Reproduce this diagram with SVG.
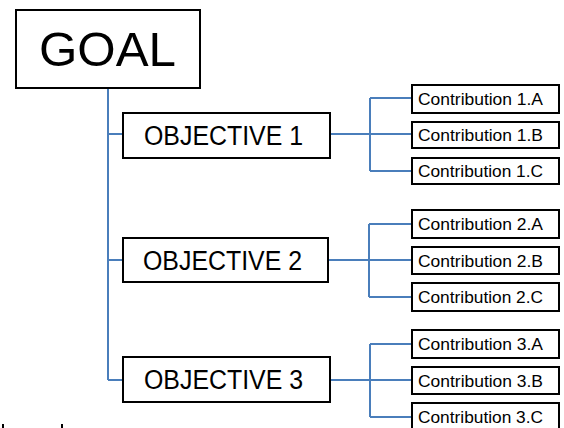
<svg xmlns="http://www.w3.org/2000/svg" width="564" height="428" viewBox="0 0 564 428">
<style>
.box{fill:#fff;stroke:#000;stroke-width:2}
.ln{fill:none;stroke:#4a7ebb;stroke-width:2}
.goal{font-family:"Liberation Sans",Arial,sans-serif;font-size:48px;fill:#000}
.obj{font-family:"Liberation Sans",Arial,sans-serif;font-size:27px;fill:#000}
.con{font-family:"Liberation Sans",Arial,sans-serif;font-size:16px;fill:#000}
</style>
<rect width="564" height="428" fill="#fff"/>
<g id="connectors">
<path class="ln" d="M108,89V380M108,134H122M108,260H122M108,380H122"/>
<path class="ln" d="M331,134H370M370,98V171M370,98H411M370,134H411M370,171H411"/>
<path class="ln" d="M329,260H369M369,224V297M369,224H411M369,260H411M369,297H411"/>
<path class="ln" d="M331,380H370M370,344V417M370,344H411M370,380H411M370,417H411"/>
</g>
<g id="goal"><rect class="box" x="16" y="10" width="184" height="78"/><text class="goal" x="39" y="66" textLength="137" lengthAdjust="spacingAndGlyphs">GOAL</text></g>
<g id="obj1"><rect class="box" x="123" y="113" width="207" height="45"/><text class="obj" x="144" y="145" textLength="159" lengthAdjust="spacingAndGlyphs">OBJECTIVE 1</text></g>
<g id="obj2"><rect class="box" x="123" y="238" width="205" height="44"/><text class="obj" x="143" y="270" textLength="159" lengthAdjust="spacingAndGlyphs">OBJECTIVE 2</text></g>
<g id="obj3"><rect class="box" x="123" y="357" width="207" height="45"/><text class="obj" x="144" y="389" textLength="159" lengthAdjust="spacingAndGlyphs">OBJECTIVE 3</text></g>
<g id="c1a"><rect class="box" x="412" y="85" width="147" height="28"/><text class="con" x="418" y="105" textLength="125" lengthAdjust="spacingAndGlyphs">Contribution 1.A</text></g>
<g id="c1b"><rect class="box" x="412" y="122" width="147" height="26"/><text class="con" x="418" y="141" textLength="125" lengthAdjust="spacingAndGlyphs">Contribution 1.B</text></g>
<g id="c1c"><rect class="box" x="412" y="158" width="147" height="26"/><text class="con" x="418" y="177" textLength="125" lengthAdjust="spacingAndGlyphs">Contribution 1.C</text></g>
<g id="c2a"><rect class="box" x="412" y="210" width="147" height="28"/><text class="con" x="418" y="230" textLength="125" lengthAdjust="spacingAndGlyphs">Contribution 2.A</text></g>
<g id="c2b"><rect class="box" x="412" y="247" width="147" height="27"/><text class="con" x="418" y="267" textLength="125" lengthAdjust="spacingAndGlyphs">Contribution 2.B</text></g>
<g id="c2c"><rect class="box" x="412" y="283" width="147" height="28"/><text class="con" x="418" y="303" textLength="125" lengthAdjust="spacingAndGlyphs">Contribution 2.C</text></g>
<g id="c3a"><rect class="box" x="412" y="330" width="147" height="28"/><text class="con" x="418" y="350" textLength="125" lengthAdjust="spacingAndGlyphs">Contribution 3.A</text></g>
<g id="c3b"><rect class="box" x="412" y="367" width="147" height="27"/><text class="con" x="418" y="387" textLength="125" lengthAdjust="spacingAndGlyphs">Contribution 3.B</text></g>
<g id="c3c"><rect class="box" x="412" y="403" width="147" height="28"/><text class="con" x="418" y="423" textLength="125" lengthAdjust="spacingAndGlyphs">Contribution 3.C</text></g>
<rect x="2" y="424" width="2" height="4" fill="#000"/>
<rect x="61" y="424" width="2" height="4" fill="#000"/>
</svg>
